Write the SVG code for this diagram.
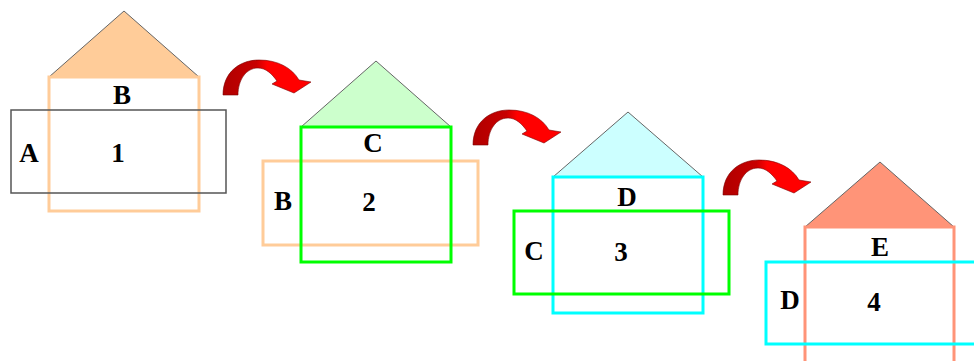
<svg xmlns="http://www.w3.org/2000/svg" xmlns:xlink="http://www.w3.org/1999/xlink" width="974" height="361" viewBox="0 0 974 361">
<style>
.roof{stroke:#666;stroke-width:1}
.wall{fill:none;stroke-width:3}
.lbl{font-family:"Liberation Serif","Times New Roman",serif;font-weight:bold;font-size:27px;fill:#000;text-anchor:middle}
.arr{fill:url(#rg);stroke:#7a0000;stroke-width:0.6}
</style>
<defs>
<linearGradient id="rg" gradientUnits="userSpaceOnUse" x1="223" y1="0" x2="311" y2="0">
<stop offset="0" stop-color="#b00000"/>
<stop offset="0.38" stop-color="#c80000"/>
<stop offset="0.5" stop-color="#ff0000"/>
<stop offset="1" stop-color="#ff0000"/>
</linearGradient>
<path id="arrow" class="arr" d="M223 95 C223 72 240 60 259 60 C278 60 292 68 299 80 L311 82 L294 93 L272 84 L277 81 C272 74 266 68 258 68 C246 68 238 80 238 95 Z"/>
</defs>
<rect width="974" height="361" fill="#fff"/>

<g id="house1">
<polygon class="roof" points="49,77 124,11 199,77" fill="#ffcc99"/>
<rect class="wall" x="49" y="77" width="150" height="134" stroke="#ffcc99"/>
<rect x="11" y="110" width="215" height="83" fill="none" stroke="#555" stroke-width="1.5"/>
<text class="lbl" x="122" y="104">B</text>
<text class="lbl" x="29" y="162">A</text>
<text class="lbl" x="118" y="162">1</text>
</g>

<g id="house2">
<polygon class="roof" points="301,127 376,61 451,127" fill="#ccffcc"/>
<rect class="wall" x="263" y="161" width="215" height="84" stroke="#ffcc99"/>
<rect class="wall" x="301" y="127" width="150" height="135" stroke="#00ff00"/>
<text class="lbl" x="373" y="152">C</text>
<text class="lbl" x="283" y="210">B</text>
<text class="lbl" x="369" y="211">2</text>
</g>

<g id="house3">
<polygon class="roof" points="553,177 628,112 703,177" fill="#ccffff"/>
<rect class="wall" x="553" y="177" width="150" height="136" stroke="#00ffff"/>
<rect class="wall" x="514" y="211" width="215" height="83" stroke="#00ff00"/>
<text class="lbl" x="627" y="206">D</text>
<text class="lbl" x="534" y="260">C</text>
<text class="lbl" x="621" y="261">3</text>
</g>

<g id="house4">
<polygon class="roof" points="805,227 880,162 954,227" fill="#ff9478"/>
<rect class="wall" x="805" y="227" width="149" height="140" stroke="#ff9478"/>
<rect class="wall" x="766" y="262" width="215" height="82" stroke="#00ffff"/>
<text class="lbl" x="880" y="256">E</text>
<text class="lbl" x="790" y="309">D</text>
<text class="lbl" x="874" y="311">4</text>
</g>

<g id="connectors">
<use xlink:href="#arrow"/>
<use xlink:href="#arrow" transform="translate(250,50)"/>
<use xlink:href="#arrow" transform="translate(500,100)"/>
</g>
</svg>
